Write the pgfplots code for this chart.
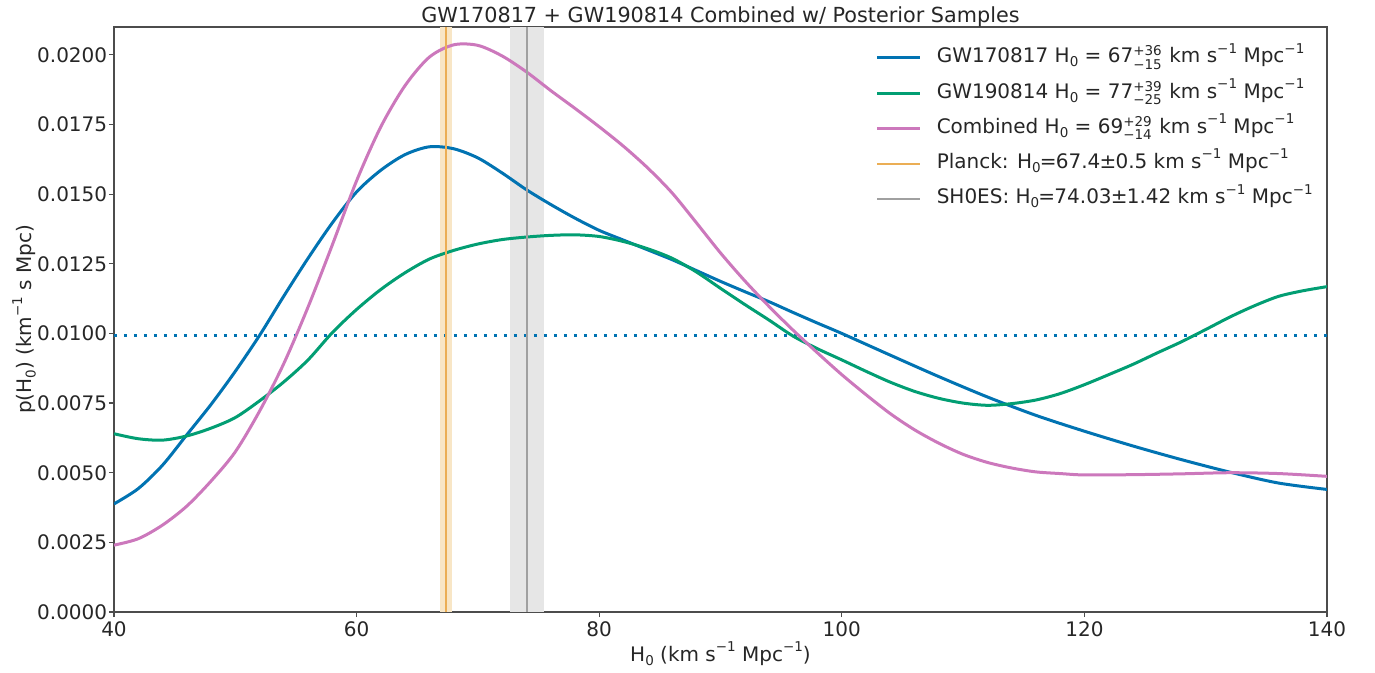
\documentclass[border=0pt]{standalone}
\usepackage{fontspec}
\setmainfont{DejaVu Sans}
\usepackage{amsmath}
\usepackage{pgfplots}
\pgfplotsset{compat=1.18}

\definecolor{cbblue}{HTML}{0173B2}
\definecolor{cbgreen}{HTML}{029E73}
\definecolor{cbpink}{HTML}{CC78BC}
\definecolor{planckline}{HTML}{EBAE55}
\definecolor{planckband}{HTML}{F8E6C6}
\definecolor{shoesline}{HTML}{A0A0A0}
\definecolor{shoesband}{HTML}{E6E6E6}
\definecolor{txt}{HTML}{262626}

% small scripts, close to matplotlib mathtext
\newcommand{\sps}[1]{\raisebox{0.9ex}{\fontsize{5.4}{6}\selectfont #1}}
\newcommand{\sbs}[1]{\raisebox{-0.35ex}{\fontsize{5.4}{6}\selectfont #1}}
\newcommand{\hz}{H\sbs{0}}
\newcommand{\un}{km s\sps{−1} Mpc\sps{−1}}
\newcommand{\ci}[2]{\ensuremath{^{\text{\fontsize{5.4}{6}\selectfont #1}}_{\text{\fontsize{5.4}{6}\selectfont #2}}}}
\newcommand{\tk}{\kern-0.04em}

\begin{document}
\begin{tikzpicture}
\useasboundingbox (-45.6pt,-24pt) rectangle (504.4pt,244.8pt);
\begin{axis}[
  at={(0pt,0pt)}, anchor=south west,
  scale only axis,
  width=485.2pt, height=234pt,
  xmin=40, xmax=140, ymin=0, ymax=0.021,
  xtick={40,60,80,100,120,140},
  ytick={0,0.0025,0.005,0.0075,0.01,0.0125,0.015,0.0175,0.02},
  scaled y ticks=false,
  /pgf/number format/assume math mode=true,
  tick align=outside, tick pos=left, major tick length=2pt,
  tick style={black!70, line width=0.5pt},
  axis line style={black!70, line width=0.5pt},
  tick label style={font=\fontsize{8}{9.6}\selectfont, text=txt},
  xticklabel style={yshift=1.6pt},
  yticklabel style={xshift=2.8pt, /pgf/number format/.cd, fixed, fixed zerofill, precision=4},
  label style={font=\fontsize{8}{9.6}\selectfont, text=txt},
  xlabel style={yshift=5pt},
  ylabel style={yshift=-6.4pt},
  title style={font=\fontsize{8.3}{10}\selectfont, text=txt, yshift=-9.4pt},
  title={GW170817 + GW190814 Combined w/ Posterior Samples},
  xlabel={\hz{} (\un)},
  ylabel={p(\hz) (km\sps{−1} s Mpc)},
  legend style={at={(0.6274,0.9715)}, anchor=north west, draw=none, fill=none,
    inner sep=0pt, font=\fontsize{8}{9.6}\selectfont, text=txt, row sep=3.1pt,
    nodes={inner sep=0.5pt, text height=7pt, text depth=3pt}},
  legend cell align=left,
  legend image code/.code={\draw[#1] (0pt,0pt) -- (17.2pt,0pt); \path (22.8pt,0pt);},
]
% bands behind everything
\addplot[fill=planckband, draw=none, forget plot]
  coordinates {(66.9,0) (66.9,0.021) (67.9,0.021) (67.9,0)} -- cycle;
\addplot[fill=shoesband, draw=none, forget plot]
  coordinates {(72.61,0) (72.61,0.021) (75.45,0.021) (75.45,0)} -- cycle;

% uniform prior level
\addplot[cbblue, line width=1.2pt, dash pattern=on 1.2pt off 2.8pt, forget plot]
  coordinates {(40,0.00993) (140,0.00993)};

\addplot[cbblue, line width=1.2pt, smooth] coordinates {
  (40,0.00388) (42,0.00443) (44,0.00527) (46,0.00636) (48,0.00745) (50,0.00864)
  (52,0.00993) (54,0.01134) (56,0.0127) (58,0.01397) (60,0.01508) (62,0.01586)
  (64,0.01642) (66,0.0167) (68,0.01663) (70,0.0163) (72,0.01576) (74,0.01516)
  (76,0.01463) (78,0.01414) (80,0.0137) (82,0.01335) (84,0.013) (86,0.01265)
  (88,0.01226) (90,0.01187) (92,0.0115) (94,0.01114) (96,0.01075) (98,0.01037)
  (100,0.01) (104,0.00922) (108,0.00845) (112,0.00772) (116,0.00706) (120,0.00649)
  (124,0.00596) (128,0.00547) (132,0.00502) (136,0.00463) (140,0.0044)};
\addlegendentry{GW170817 \hz{} = 67\ci{+36}{−15} \un}

\addplot[cbgreen, line width=1.2pt, smooth] coordinates {
  (40,0.0064) (42,0.00622) (44,0.00617) (46,0.00632) (48,0.0066) (50,0.00698)
  (52,0.00758) (54,0.00826) (56,0.00905) (58,0.01003) (60,0.01086) (62,0.01158)
  (64,0.01218) (66,0.01267) (68,0.01298) (70,0.01321) (72,0.01337) (74,0.01346)
  (76,0.01352) (78,0.01354) (80,0.01348) (82,0.0133) (84,0.01304) (86,0.0127)
  (88,0.01221) (90,0.01162) (92,0.01104) (94,0.01048) (96,0.0099) (98,0.00945)
  (100,0.00905) (102,0.00864) (104,0.00825) (106,0.00792) (108,0.00767) (110,0.0075)
  (112,0.00742) (114,0.00748) (116,0.00761) (118,0.00784) (120,0.00816) (122,0.00852)
  (124,0.00889) (126,0.0093) (128,0.0097) (130,0.01014) (132,0.01059) (134,0.01099)
  (136,0.01133) (138,0.01153) (140,0.01168)};
\addlegendentry{GW190814 \hz{} = 77\ci{+39}{−25} \un}

\addplot[cbpink, line width=1.2pt, smooth] coordinates {
  (40,0.0024) (42,0.00263) (44,0.00312) (46,0.0038) (48,0.0047) (50,0.00575)
  (52,0.00721) (54,0.00892) (56,0.01095) (58,0.01318) (60,0.01548) (62,0.01742)
  (64,0.0189) (66,0.01992) (68,0.02036) (70,0.02034) (72,0.01996) (74,0.01939)
  (76,0.01872) (78,0.01808) (80,0.01742) (82,0.01672) (84,0.01594) (86,0.01505)
  (88,0.01398) (90,0.01289) (92,0.01189) (94,0.01097) (96,0.01011) (98,0.0093)
  (100,0.00852) (102,0.0078) (104,0.00712) (106,0.00654) (108,0.00606) (110,0.00566)
  (112,0.00537) (114,0.00517) (116,0.00503) (118,0.00497) (120,0.00492) (124,0.00493)
  (128,0.00496) (132,0.005) (136,0.00497) (140,0.00487)};
\addlegendentry{Combined \hz{} = 69\ci{+29}{−14} \un}

\addplot[planckline, line width=0.8pt] coordinates {(67.4,0) (67.4,0.021)};
\addlegendentry{Planck: \hz\tk=\tk67.4\tk±\tk0.5 \un}

\addplot[shoesline, line width=0.6pt] coordinates {(74.03,0) (74.03,0.021)};
\addlegendentry{SH0ES: \hz\tk=\tk74.03\tk±\tk1.42 \un}
\end{axis}
\end{tikzpicture}
\end{document}
